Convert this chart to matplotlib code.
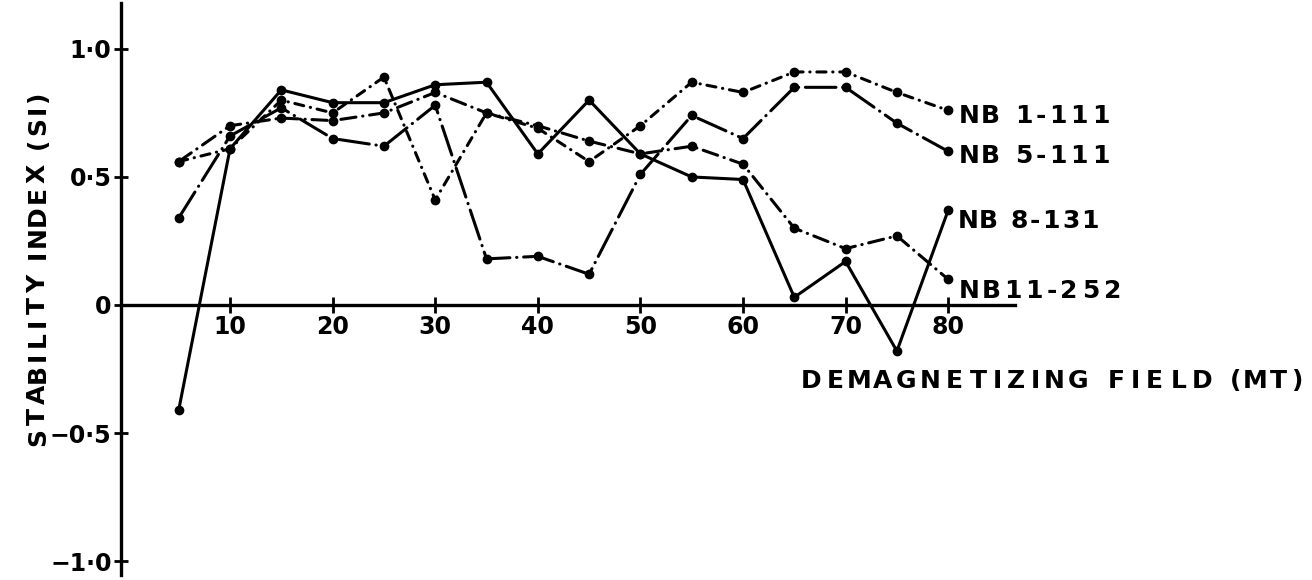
import matplotlib.pyplot as plt

# demagnetizing field steps (mT)
field = [5, 10, 15, 20, 25, 30, 35, 40, 45, 50, 55, 60, 65, 70, 75, 80]

# stability index
nb_1_111 = [0.56, 0.61, 0.80, 0.75, 0.89, 0.41, 0.75, 0.69, 0.56, 0.70, 0.87, 0.83, 0.91, 0.91, 0.83, 0.76]
nb_5_111 = [0.34, 0.66, 0.77, 0.65, 0.62, 0.78, 0.18, 0.19, 0.12, 0.51, 0.74, 0.65, 0.85, 0.85, 0.71, 0.60]
nb_8_131 = [-0.41, 0.61, 0.84, 0.79, 0.79, 0.86, 0.87, 0.59, 0.80, 0.59, 0.50, 0.49, 0.03, 0.17, -0.18, 0.37]
nb_11_252 = [0.56, 0.70, 0.73, 0.72, 0.75, 0.83, 0.75, 0.70, 0.64, 0.59, 0.62, 0.55, 0.30, 0.22, 0.27, 0.10]

series = [nb_1_111, nb_5_111, nb_8_131, nb_11_252]
names = ["NB 1-111", "NB 5-111", "NB 8-131", "NB11-252"]
dash_styles = [(3.0, 2.2, 0.1, 2.2), (10, 2.2, 0.1, 2.2), None, (5, 2.2, 0.1, 2.2)]
label_drop = [13, 12, 18, 19]        # px from the end dot down to the label baseline
label_width = [153, 153, 142, 165]   # px taken by each hand-lettered label

x_ticks = [10, 20, 30, 40, 50, 60, 70, 80]
y_ticks = [1.0, 0.5, 0, -0.5, -1.0]
y_tick_labels = ["1·0", "0·5", "0", "−0·5", "−1·0"]

NARROW = set("I-() ")


def lettered(ax, s, xy, coords, width, start=(0, 0), vertical=False, size=18, va="baseline"):
    """stencil-like lettering: each character placed on its own, evenly spread over width"""
    units = [0.6 if ch in NARROW else 1.0 for ch in s]
    step = width / sum(units)
    pos = 0.0
    for ch, u in zip(s, units):
        centre = (pos + u / 2) * step
        pos += u
        if ch == " ":
            continue
        if vertical:
            off = (start[0], start[1] + centre)
        else:
            off = (start[0] + centre, start[1])
        ax.annotate(ch, xy, xycoords=coords, xytext=off, textcoords="offset pixels",
                    ha="center", va=va, rotation=90 if vertical else 0,
                    fontsize=size, fontweight="bold", color="black")


fig = plt.figure(figsize=(13.12, 5.8), dpi=100)
ax = fig.add_axes([0, 0, 1, 1])
ax.set_xlim(-12.42, 115.46)
ax.set_ylim(-1.074, 1.191)

for vals, name, dashes, drop, w in zip(series, names, dash_styles, label_drop, label_width):
    line, = ax.plot(field, vals, color="black", lw=2.2, marker="o", ms=6,
                    solid_capstyle="round", dash_capstyle="round")
    if dashes is not None:
        line.set_dashes(dashes)
    lettered(ax, name, (field[-1], vals[-1]), "data", w, start=(10, -drop))

# axes drawn like the original: two crossing lines, no box
for side in ["top", "right"]:
    ax.spines[side].set_visible(False)
ax.spines["left"].set_position(("data", -0.6))
ax.spines["bottom"].set_position(("data", 0))
ax.spines["left"].set_bounds(-1.055, 1.18)
ax.spines["bottom"].set_bounds(-0.6, 86.5)
ax.spines["left"].set_linewidth(2.4)
ax.spines["bottom"].set_linewidth(2.4)

ax.set_xticks(x_ticks)
ax.set_xticklabels([str(t) for t in x_ticks])
ax.set_yticks(y_ticks)
ax.set_yticklabels(y_tick_labels)
ax.tick_params(axis="x", direction="inout", length=12, width=2, pad=1, labelsize=17)
ax.tick_params(axis="y", direction="inout", length=10, width=2, pad=2, labelsize=17)
for lab in ax.get_xticklabels() + ax.get_yticklabels():
    lab.set_fontweight("bold")

lettered(ax, "DEMAGNETIZING FIELD (MT)", (799, 192), "figure pixels", 506)
lettered(ax, "STABILITY INDEX (SI)", (38, 132), "figure pixels", 358,
         vertical=True, va="center")

fig.savefig("out.png", dpi=100, facecolor="white")
